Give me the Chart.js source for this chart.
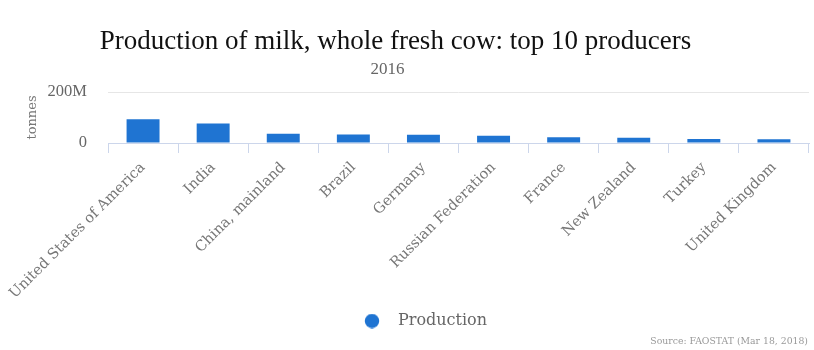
<!DOCTYPE html>
<html><head><meta charset="utf-8">
<script src="https://cdn.jsdelivr.net/npm/chart.js@4/dist/chart.umd.min.js"></script>
<style>html,body{margin:0;padding:0;background:#fff}#wrap{position:relative;width:814px;height:350px}</style>
</head><body><div id="wrap"><canvas id="c" width="814" height="350"></canvas></div>
<script>
const categories = ["United States of America","India","China, mainland","Brazil","Germany","Russian Federation","France","New Zealand","Turkey","United Kingdom"];
const production = [93000000, 76000000, 36000000, 33000000, 32000000, 28000000, 23000000, 21000000, 16000000, 15000000];
const yTicks = [0, 200000000];
const yTickLabels = ["0", "200M"];
const titleText = 'Production of milk, whole fresh cow: top 10 producers';
const subtitleText = '2016';

const barColor = '#1f74d2';

// legend marker: a circle drawn on a small canvas (dot offset to the right)
const dot = document.createElement('canvas');
dot.width = 48; dot.height = 15;
(function(){ const g = dot.getContext('2d'); g.fillStyle = barColor; g.beginPath(); g.arc(40, 7.5, 7.2, 0, Math.PI*2); g.fill(); })();

const sourcePlugin = {
  id: 'source',
  afterLayout(chart) {
    // shift title / subtitle horizontally to match reference centring
    chart.boxes.forEach(b => {
      if (b.options && b.options.text === titleText) b.left -= 18;
      else if (b.options && b.options.text === subtitleText) b.left -= 34;
    });
  },
  afterDraw(chart) {
    const ctx = chart.ctx;
    ctx.save();
    ctx.font = '9.3px "DejaVu Serif"';
    ctx.fillStyle = '#999';
    ctx.textAlign = 'right';
    ctx.textBaseline = 'middle';
    ctx.fillText('Source: FAOSTAT (Mar 18, 2018)', 808, 342);
    ctx.restore();
  }
};

new Chart(document.getElementById('c'), {
  type: 'bar',
  data: { labels: categories, datasets: [{ label: 'Production', data: production, backgroundColor: barColor, barPercentage: 0.47, categoryPercentage: 1, pointStyle: dot }] },
  options: {
    responsive: false, animation: false,
    layout: { padding: { left: 0, right: 5, top: 26, bottom: 11 } },
    plugins: {
      title: { display: true, text: titleText, color: '#111', font: { family: '"Liberation Serif"', size: 27, weight: 'normal' }, padding: { top: 0, bottom: 1 } },
      subtitle: { display: true, text: subtitleText, color: '#666', font: { family: '"Liberation Serif"', size: 17 }, padding: { top: 0, bottom: 12.2 } },
      legend: { position: 'bottom', labels: { usePointStyle: true, pointStyleWidth: 68, boxHeight: 12, color: '#666', font: { family: '"DejaVu Serif"', size: 16 }, padding: 8 } },
      tooltip: { enabled: false }
    },
    scales: {
      x: {
        afterFit: s => { s.height = 162; s.paddingLeft = 0; s.paddingRight = 0; },
        grid: { offset: true, drawOnChartArea: false, tickLength: 10, color: '#ccd6eb' },
        border: { display: true, color: '#ccd6eb' },
        ticks: { color: '#777', font: { family: '"DejaVu Serif"', size: 14.5 }, maxRotation: 45, minRotation: 45, padding: 6 }
      },
      y: {
        min: 0, max: 200000000,
        afterFit: s => { s.width = 108; },
        afterBuildTicks: s => { s.ticks = yTicks.map(v => ({ value: v })); },
        ticks: { color: '#666', font: { family: '"Liberation Serif"', size: 16.5 }, padding: 21, callback: (v) => yTickLabels[yTicks.indexOf(v)] },
        grid: { color: (c) => c.tick && c.tick.value === 0 ? 'rgba(0,0,0,0)' : '#e6e6e6', drawTicks: false },
        border: { display: false },
        title: { display: true, text: 'tonnes', color: '#777', font: { family: '"DejaVu Serif"', size: 13 }, padding: { top: 25, bottom: 0 } }
      }
    }
  },
  plugins: [sourcePlugin]
});
</script></body></html>
